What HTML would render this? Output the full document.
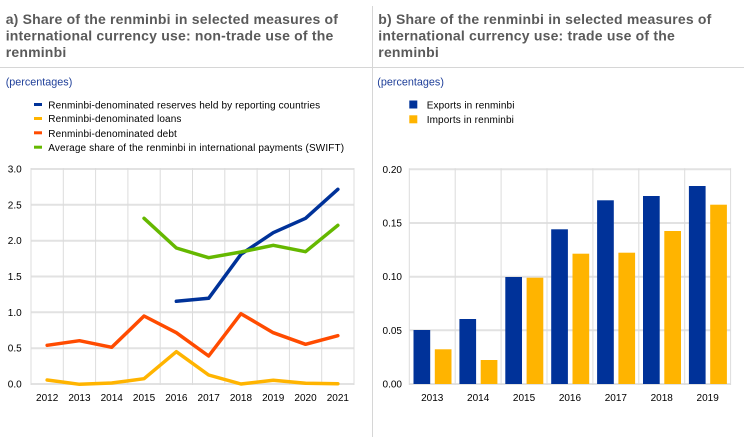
<!DOCTYPE html>
<html><head><meta charset="utf-8"><style>
html,body{margin:0;padding:0;background:#fff;}
svg{display:block;font-family:"Liberation Sans",Arial,sans-serif;}
.t{font-weight:bold;font-size:14px;fill:#5a5a5a;letter-spacing:0.2px;}
.p{font-size:10.8px;fill:#1f3f99;}
.lg{font-size:10px;fill:#000;letter-spacing:0.12px;}
.tk{font-size:10px;fill:#000;}
</style></head><body>
<svg width="744" height="442" viewBox="0 0 744 442" xmlns="http://www.w3.org/2000/svg">
<rect width="744" height="442" fill="#fff"/>
<!-- dividers -->
<line x1="0" y1="67.5" x2="744" y2="67.5" stroke="#d6d6d6" stroke-width="1"/>
<line x1="372.5" y1="6" x2="372.5" y2="437" stroke="#d6d6d6" stroke-width="1"/>

<!-- Titles -->
<text class="t" x="5.7" y="24">a) Share of the renminbi in selected measures of</text>
<text class="t" x="5.7" y="40.5">international currency use: non-trade use of the</text>
<text class="t" x="5.7" y="57">renminbi</text>
<text class="t" x="378.3" y="24">b) Share of the renminbi in selected measures of</text>
<text class="t" x="378.3" y="40.5">international currency use: trade use of the</text>
<text class="t" x="378.3" y="57">renminbi</text>

<text class="p" x="5.7" y="85.5">(percentages)</text>
<text class="p" x="377.3" y="85.5">(percentages)</text>

<!-- Left legend -->
<rect x="34" y="103" width="8" height="3" fill="#003299"/>
<text class="lg" x="48.3" y="108.5">Renminbi-denominated reserves held by reporting countries</text>
<rect x="34" y="117" width="8" height="3" fill="#ffb400"/>
<text class="lg" x="48.3" y="122">Renminbi-denominated loans</text>
<rect x="34" y="131.3" width="8" height="3" fill="#ff4b00"/>
<text class="lg" x="48.3" y="137">Renminbi-denominated debt</text>
<rect x="34" y="145.7" width="8" height="3" fill="#65b800"/>
<text class="lg" x="48.3" y="151">Average share of the renminbi in international payments (SWIFT)</text>

<!-- Right legend -->
<rect x="409.3" y="100.5" width="8" height="8" fill="#003299"/>
<text class="lg" x="426.7" y="108.5">Exports in renminbi</text>
<rect x="409.3" y="115.3" width="8" height="8" fill="#ffb400"/>
<text class="lg" x="426.7" y="123">Imports in renminbi</text>

<!-- Left chart grid -->
<g stroke="#e2e2e2" stroke-width="2">
<line x1="31" y1="169" x2="354" y2="169"/>
<line x1="31" y1="204.8" x2="354" y2="204.8"/>
<line x1="31" y1="240.7" x2="354" y2="240.7"/>
<line x1="31" y1="276.5" x2="354" y2="276.5"/>
<line x1="31" y1="312.3" x2="354" y2="312.3"/>
<line x1="31" y1="348.2" x2="354" y2="348.2"/>
<line x1="31" y1="384" x2="354" y2="384"/>
</g>
<g stroke="#dcdcdc" stroke-width="1">
<line x1="31" y1="168" x2="31" y2="385"/>
<line x1="63.3" y1="168" x2="63.3" y2="385"/>
<line x1="95.6" y1="168" x2="95.6" y2="385"/>
<line x1="127.9" y1="168" x2="127.9" y2="385"/>
<line x1="160.2" y1="168" x2="160.2" y2="385"/>
<line x1="192.5" y1="168" x2="192.5" y2="385"/>
<line x1="224.8" y1="168" x2="224.8" y2="385"/>
<line x1="257.1" y1="168" x2="257.1" y2="385"/>
<line x1="289.4" y1="168" x2="289.4" y2="385"/>
<line x1="321.7" y1="168" x2="321.7" y2="385"/>
<line x1="354" y1="168" x2="354" y2="385"/>
</g>
<g class="tk" text-anchor="end">
<text x="21.7" y="172.5">3.0</text>
<text x="21.7" y="208.3">2.5</text>
<text x="21.7" y="244.2">2.0</text>
<text x="21.7" y="280">1.5</text>
<text x="21.7" y="315.8">1.0</text>
<text x="21.7" y="351.7">0.5</text>
<text x="21.7" y="387.5">0.0</text>
</g>
<g class="tk" text-anchor="middle">
<text x="47.15" y="401">2012</text>
<text x="79.45" y="401">2013</text>
<text x="111.75" y="401">2014</text>
<text x="144.05" y="401">2015</text>
<text x="176.35" y="401">2016</text>
<text x="208.65" y="401">2017</text>
<text x="240.95" y="401">2018</text>
<text x="273.25" y="401">2019</text>
<text x="305.55" y="401">2020</text>
<text x="337.85" y="401">2021</text>
</g>
<g fill="none" stroke-width="3.5" stroke-linejoin="round" stroke-linecap="round">
<polyline stroke="#003299" points="176.35,301.3 208.65,298.3 240.95,254.3 273.25,232.7 305.55,218.3 337.85,189.3"/>
<polyline stroke="#ffb400" points="47.15,380 79.45,384.3 111.75,383 144.05,378.7 176.35,351.7 208.65,375 240.95,384 273.25,380.3 305.55,383.3 337.85,383.7"/>
<polyline stroke="#ff4b00" points="47.15,345.3 79.45,340.7 111.75,347.3 144.05,316 176.35,332.7 208.65,356 240.95,313.7 273.25,332.7 305.55,344.3 337.85,335.7"/>
<polyline stroke="#65b800" points="144.05,218.3 176.35,248 208.65,257.7 240.95,252 273.25,245.3 305.55,251.7 337.85,225.3"/>
</g>

<!-- Right chart grid -->
<g stroke="#e2e2e2" stroke-width="2">
<line x1="409.3" y1="169.3" x2="730.7" y2="169.3"/>
<line x1="409.3" y1="223" x2="730.7" y2="223"/>
<line x1="409.3" y1="276.7" x2="730.7" y2="276.7"/>
<line x1="409.3" y1="330.3" x2="730.7" y2="330.3"/>
<line x1="409.3" y1="384" x2="730.7" y2="384"/>
</g>
<g stroke="#dcdcdc" stroke-width="1">
<line x1="409.3" y1="168.3" x2="409.3" y2="385"/>
<line x1="455.2" y1="168.3" x2="455.2" y2="385"/>
<line x1="501.1" y1="168.3" x2="501.1" y2="385"/>
<line x1="547" y1="168.3" x2="547" y2="385"/>
<line x1="592.9" y1="168.3" x2="592.9" y2="385"/>
<line x1="638.8" y1="168.3" x2="638.8" y2="385"/>
<line x1="684.7" y1="168.3" x2="684.7" y2="385"/>
<line x1="730.6" y1="168.3" x2="730.6" y2="385"/>
</g>
<g class="tk" text-anchor="end">
<text x="402" y="172.8">0.20</text>
<text x="402" y="226.5">0.15</text>
<text x="402" y="280.2">0.10</text>
<text x="402" y="333.8">0.05</text>
<text x="402" y="387.5">0.00</text>
</g>
<g class="tk" text-anchor="middle">
<text x="432.25" y="401">2013</text>
<text x="478.15" y="401">2014</text>
<text x="524.05" y="401">2015</text>
<text x="569.95" y="401">2016</text>
<text x="615.85" y="401">2017</text>
<text x="661.75" y="401">2018</text>
<text x="707.65" y="401">2019</text>
</g>
<g fill="#003299">
<rect x="413.5" y="330" width="16.7" height="54"/>
<rect x="459.4" y="319" width="16.7" height="65"/>
<rect x="505.3" y="277" width="16.7" height="107"/>
<rect x="551.2" y="229.3" width="16.7" height="154.7"/>
<rect x="597.1" y="200.3" width="16.7" height="183.7"/>
<rect x="643" y="196" width="16.7" height="188"/>
<rect x="688.9" y="186" width="16.7" height="198"/>
</g>
<g fill="#ffb400">
<rect x="434.8" y="349.3" width="16.7" height="34.7"/>
<rect x="480.7" y="360" width="16.7" height="24"/>
<rect x="526.6" y="277.7" width="16.7" height="106.3"/>
<rect x="572.5" y="253.7" width="16.7" height="130.3"/>
<rect x="618.4" y="252.7" width="16.7" height="131.3"/>
<rect x="664.3" y="231" width="16.7" height="153"/>
<rect x="710.2" y="204.7" width="16.7" height="179.3"/>
</g>
</svg>
</body></html>
